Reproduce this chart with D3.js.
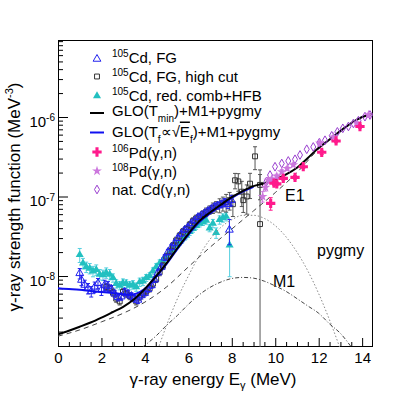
<!DOCTYPE html>
<html><head><meta charset="utf-8">
<script src="https://cdn.jsdelivr.net/npm/d3@7"></script>
<style>
body{margin:0;background:#fff;}
svg{display:block;font-family:"Liberation Sans",Arial,Helvetica,sans-serif;}
</style></head><body>
<svg id="c" width="415" height="399"></svg>
<script>
// ---------------- data (values in units of 1e-9 MeV^-3 for points) ----------------
const xTicks = [0,2,4,6,8,10,12,14];
const yTicks = [1e-8,1e-7,1e-6];

// 105Cd, FG (open blue triangles)
const fgE = [1.00,1.08,1.23,1.38,1.53,1.69,1.84,2.00,2.15,2.30,2.45,2.61,2.76,2.91,3.07,3.22,3.38,3.53,3.68,3.84,3.99,4.14,4.30,4.45,4.60,4.76,4.91,5.06,5.22,5.37,5.52,5.68,5.83,5.98,6.14,6.29,6.44,6.60,6.75,6.90,7.06,7.21,7.36,7.52,7.67,7.82,7.89,7.98];
const fgV = [10.8,8.9,7.7,7.0,6.4,7.3,8.1,6.7,7.7,7.4,6.9,6.0,5.4,5.5,6.3,6.0,5.6,5.2,5.0,5.7,6.1,6.8,7.6,9.0,11,13,17,20,23,26,30,34,38,41,46,50,55,58,62,66,70,75,77,80,84,80,38,90];
const fgErr = [0.15,0.15,0.15,0.15,0.15,0.15,0.15,0.15,0.15,0.15,0.1,0.1,0.1,0.1,0.1,0.1,0.1,0.1,0.1,0.1,0.08,0.08,0.08,0.08,0.08,0.08,0.08,0.08,0.08,0.08,0.07,0.07,0.07,0.07,0.07,0.07,0.07,0.07,0.07,0.07,0.08,0.08,0.1,0.1,0.12,0.12,0.35,0.15];

// 105Cd, FG, high cut (open squares)
const hcE = [2.22,2.38,2.53,2.68,2.84,2.99,3.14,3.30,3.45,3.60,3.76,3.91,4.06,4.22,4.37,4.52,4.68,4.83,4.98,5.14,5.29,5.44,5.60,5.75,5.90,6.06,6.21,6.36,6.52,6.67,6.82,6.98,7.13,7.28,7.44,7.59,7.74,7.90,8.05,8.15,8.30,8.46,8.53,8.69,8.84,9.07,9.30,9.30];
const hcV = [7.3,7.0,6.2,5.2,4.8,6.3,6.0,5.6,5.3,4.8,5.5,6.0,6.4,7.0,8.0,9.2,11.2,13.5,17.5,20.5,24,28,32,36,39,44,49,53,56,60,64,68,72,75,78,82,85,90,80,160,155,115,90,100,145,320,140,45];
const hcErr = [0.1,0.1,0.1,0.1,0.1,0.1,0.1,0.1,0.1,0.1,0.1,0.1,0.1,0.1,0.1,0.1,0.1,0.1,0.1,0.1,0.1,0.1,0.1,0.1,0.1,0.1,0.1,0.1,0.1,0.1,0.12,0.12,0.15,0.15,0.2,0.2,0.25,0.25,0.3,0.22,0.25,0.35,0.3,0.4,0.35,0.32,0.35,3.8];

// 105Cd, red. comb+HFB (filled cyan triangles)
const cyE = [1.00,1.15,1.30,1.46,1.61,1.76,1.92,2.07,2.22,2.38,2.53,2.68,2.84,2.99,3.14,3.30,3.45,3.60,3.76,3.91,4.06,4.22,4.37,4.52,4.68,4.83,4.98,5.14,5.29,5.44,5.60,5.75,5.90,6.06,6.21,6.36,6.52,6.67,6.82,6.98,7.13,7.28,7.44,7.59,7.74,7.90];
const cyV = [18.5,14.5,13,12.5,11.5,12,10.5,10.3,11,10.5,9.5,8.0,7.6,8.2,8.0,7.6,7.8,7.3,8.4,8.6,9.5,10,11.5,13,14.5,15.5,17.5,19.5,21.5,24.5,27,30,32.5,36,39.5,43,46,48,50,40,46,35,51,54,56,24.5];
const cyErr = [0.2,0.15,0.15,0.15,0.15,0.15,0.15,0.15,0.15,0.15,0.12,0.12,0.12,0.12,0.12,0.12,0.12,0.12,0.12,0.12,0.1,0.1,0.1,0.1,0.1,0.1,0.1,0.1,0.1,0.1,0.1,0.1,0.1,0.1,0.1,0.1,0.1,0.1,0.1,0.1,0.12,0.15,0.12,0.12,0.12,0.6];

// 106Pd(g,n), 108Pd(g,n), nat. Cd(g,n)
const pd106E = [9.79,9.94,10.07,10.37,10.91,11.29,12.14,12.80,13.90];
const pd106V = [82,147,144,169,174,237,360,500,760];
const pd106Err = [0.18,0.05,0.05,0.05,0.05,0.05,0.06,0.05,0.05];
const pd108E = [9.42,9.55,9.68,9.84,10.07,10.30,10.55,10.83,12.06,12.68,13.75,14.29];
const pd108V = [100,130,160,165,180,205,225,250,470,560,830,1060];
const pd108Err = [0.15,0.1,0.08,0.06,0.06,0.06,0.05,0.05,0.05,0.05,0.05,0.05];
const cdE = [9.60,9.76,9.99,10.30,10.60,10.91,11.14,11.45,11.75,12.03,12.29,12.60,12.86,13.11,13.37,13.60,13.83,14.13,14.36];
const cdV = [155,186,237,260,280,294,333,393,420,475,510,580,650,720,760,830,900,1010,1060];

// model curves (MeV^-3)
const gloE = [0,0.5,1,1.5,2,2.5,3,3.5,4,4.5,5,5.5,6,6.5,7,7.5,8,8.5,9,9.5,10,10.5,11,11.5,12,12.5,13,13.5,14,14.5];
const gloMinV = [1.85e-9,2.05e-9,2.3e-9,2.6e-9,3.0e-9,3.5e-9,4.1e-9,5.1e-9,6.9e-9,9.8e-9,1.45e-8,2.25e-8,3.4e-8,4.9e-8,6.3e-8,7.9e-8,9.8e-8,1.17e-7,1.35e-7,1.47e-7,1.65e-7,1.9e-7,2.3e-7,3.05e-7,4.1e-7,5.2e-7,6.7e-7,8.4e-7,1.0e-6,1.1e-6];
const gloTfE = [0,0.5,1,1.5,2,2.5,3,3.3,3.6,4,4.5,5,5.5,6,6.5,7,7.5,8,8.5,9];
const gloTfV = [7.0e-9,6.85e-9,6.7e-9,6.5e-9,6.3e-9,6.1e-9,5.9e-9,5.8e-9,6.0e-9,6.9e-9,9.7e-9,1.42e-8,2.2e-8,3.3e-8,4.75e-8,6.1e-8,7.7e-8,9.6e-8,1.15e-7,1.32e-7];
const e1E = [0,1,2,3,4,5,6,7,8,9,10,11,12,13,14,14.5];
const e1V = [1.75e-9,2.1e-9,2.65e-9,3.4e-9,4.7e-9,7.3e-9,1.3e-8,2.3e-8,3.9e-8,6.6e-8,1.12e-7,2.0e-7,3.95e-7,6.5e-7,9.9e-7,1.09e-6];
const pygE = [4.6,5,5.5,6,6.5,7,7.5,8,8.5,9,9.5,10,10.5,11,11.5,12,12.5,13];
const pygV = [1.2e-9,2.4e-9,5.2e-9,1.0e-8,1.8e-8,2.9e-8,4.1e-8,5.1e-8,5.8e-8,5.8e-8,5.3e-8,4.3e-8,3.1e-8,2.0e-8,1.16e-8,6.0e-9,2.8e-9,1.2e-9];
const m1E = [3.9,4.5,5,5.5,6,6.5,7,7.5,8,8.5,9,9.5,10,10.5,11,11.5,12,12.5,13,13.5];
const m1V = [1.28e-9,1.75e-9,2.4e-9,3.2e-9,4.4e-9,5.8e-9,7.2e-9,8.4e-9,9.3e-9,9.6e-9,9.4e-9,8.6e-9,7.5e-9,6.4e-9,5.2e-9,4.2e-9,3.4e-9,2.5e-9,1.9e-9,1.28e-9];

// ---------------- drawing ----------------
const svg = d3.select("#c");
const M = {l:58, t:40, r:373, b:347};
const x = d3.scaleLinear().domain([0,14.5]).range([M.l, M.r]);
const y = d3.scaleLog().domain([1.28e-9, 9.3e-6]).range([M.b, M.t]);

svg.append("rect").attr("width",415).attr("height",399).attr("fill","#fff");
svg.append("defs").append("clipPath").attr("id","clip")
  .append("rect").attr("x",M.l).attr("y",M.t).attr("width",M.r-M.l).attr("height",M.b-M.t);

// axes
const xMinor = d3.range(0, 14.5, 0.5).filter(v => v % 2 !== 0);
svg.append("g").attr("transform",`translate(0,${M.b})`)
  .call(d3.axisBottom(x).tickValues(xMinor).tickSize(-5).tickFormat(""))
  .call(g => g.select(".domain").remove());
const gx = svg.append("g").attr("transform",`translate(0,${M.b})`)
  .call(d3.axisBottom(x).tickValues(xTicks).tickSize(-9).tickPadding(5).tickFormat(d3.format("d")))
  .call(g => g.select(".domain").remove());
gx.selectAll("text").attr("font-size",15).attr("fill","#000").attr("font-family",null);

const yMinor = y.ticks().filter(v => yTicks.every(t => Math.abs(v/t-1) > 1e-6));
svg.append("g").attr("transform",`translate(${M.l},0)`)
  .call(d3.axisLeft(y).tickValues(yMinor).tickSize(-5).tickFormat(""))
  .call(g => g.select(".domain").remove());
const gy = svg.append("g").attr("transform",`translate(${M.l},0)`)
  .call(d3.axisLeft(y).tickValues(yTicks).tickSize(-10).tickPadding(3).tickFormat(() => "10"))
  .call(g => g.select(".domain").remove());
gy.selectAll("text").attr("font-size",15).attr("fill","#000").attr("font-family",null).attr("dy","0.6em")
  .each(function(d){
    d3.select(this).append("tspan").attr("dy","-0.55em").attr("font-size",10)
      .text(String(Math.round(Math.log10(d))));
  });
svg.selectAll(".tick line").attr("stroke","#000");

// frame
svg.append("rect").attr("x",M.l+0.5).attr("y",M.t+0.5).attr("width",M.r-M.l-1).attr("height",M.b-M.t-1)
  .attr("fill","none").attr("stroke","#000").attr("stroke-width",1);

// axis titles
const xt = svg.append("text").attr("x",213).attr("y",385).attr("text-anchor","middle").attr("font-size",17);
xt.append("tspan").text("γ-ray energy E");
xt.append("tspan").attr("dy",4).attr("font-size",11).text("γ");
xt.append("tspan").attr("dy",-4).text(" (MeV)");
const yt = svg.append("text").attr("transform","translate(20,197) rotate(-90)").attr("text-anchor","middle").attr("font-size",17);
yt.append("tspan").text("γ-ray strength function (MeV");
yt.append("tspan").attr("dy",-7).attr("font-size",11).text("-3");
yt.append("tspan").attr("dy",7).text(")");

const plot = svg.append("g").attr("clip-path","url(#clip)");

// curves
function curve(E, V, opts){
  const line = d3.line().x(d=>x(d[0])).y(d=>y(d[1])).curve(d3.curveMonotoneX);
  plot.append("path").datum(E.map((e,i)=>[e,V[i]])).attr("d",line)
    .attr("fill","none").attr("stroke",opts.c).attr("stroke-width",opts.w)
    .attr("stroke-dasharray",opts.dash||null);
}

function points(E, V, err, o){
  const pts = E.map((e,i)=>({e, v:V[i]*1e-9, er: err ? err[i] : 0}));
  const g = plot.append("g");
  if (err){
    const lo = d => y(Math.max(d.v*(1-d.er), 1e-12));
    const hi = d => y(d.v*(1+d.er));
    g.selectAll("line.eb").data(pts).join("line").attr("class","eb")
      .attr("x1",d=>x(d.e)).attr("x2",d=>x(d.e)).attr("y1",lo).attr("y2",hi)
      .attr("stroke",o.ec).attr("stroke-width",1);
    g.selectAll("line.c1").data(pts).join("line").attr("class","c1")
      .attr("x1",d=>x(d.e)-2).attr("x2",d=>x(d.e)+2).attr("y1",hi).attr("y2",hi)
      .attr("stroke",o.ec).attr("stroke-width",1);
    g.selectAll("line.c2").data(pts).join("line").attr("class","c2")
      .attr("x1",d=>x(d.e)-2).attr("x2",d=>x(d.e)+2).attr("y1",lo).attr("y2",lo)
      .attr("stroke",o.ec).attr("stroke-width",1);
  }
  g.selectAll("path.m").data(pts).join("path").attr("class","m")
    .attr("transform",d=>`translate(${x(d.e)},${y(d.v)})`)
    .attr("d", d3.symbol(o.type, o.size)())
    .attr("fill", o.fill).attr("stroke", o.stroke).attr("stroke-width", o.sw||1);
}

const mk = {
  fg:  {type:d3.symbolTriangle, size:26, fill:"none", stroke:"#2222ee", ec:"#2222ee"},
  hc:  {type:d3.symbolSquare, size:24, fill:"none", stroke:"#333", ec:"#555"},
  cy:  {type:d3.symbolTriangle, size:28, fill:"#22c0c0", stroke:"none", ec:"#55cfe0"},
  p106:{type:d3.symbolCross, size:48, fill:"#ff1a8c", stroke:"none", ec:"#ff1a8c"},
  p108:{type:d3.symbolStar, size:30, fill:"#cc77dd", stroke:"none", ec:"#cc77dd"},
  cd:  {type:d3.symbolDiamond, size:22, fill:"none", stroke:"#9a3fd0", ec:"#9a3fd0"}
};

points(cyE, cyV, cyErr, mk.cy);
points(hcE, hcV, hcErr, mk.hc);
points(fgE, fgV, fgErr, mk.fg);

curve(pygE, pygV, {c:"#888", w:1, dash:"1.5,2"});
curve(m1E, m1V, {c:"#444", w:1, dash:"4,2,1,2"});
curve(e1E, e1V, {c:"#444", w:1, dash:"5,4"});
curve(gloTfE, gloTfV, {c:"#1010f0", w:2});
curve(gloE, gloMinV, {c:"#000", w:2});

points(cdE, cdV, null, mk.cd);
points(pd108E, pd108V, pd108Err, mk.p108);
points(pd106E, pd106V, pd106Err, mk.p106);

// in-plot labels
svg.append("text").attr("x",285).attr("y",201).attr("font-size",16).text("E1");
svg.append("text").attr("x",317).attr("y",256).attr("font-size",16).text("pygmy");
svg.append("text").attr("x",273).attr("y",287).attr("font-size",16).text("M1");

// legend
const L = svg.append("g").attr("font-size",15);
const lx = 97, tx = 112;
function sym(o, cy){
  L.append("path").attr("transform",`translate(${lx},${cy})`).attr("d", d3.symbol(o.type,o.size)())
    .attr("fill",o.fill).attr("stroke",o.stroke).attr("stroke-width",1);
}
function iso(t, cy, A, rest){
  const e = L.append("text").attr("x",tx).attr("y",cy+5);
  e.append("tspan").attr("dy",-6).attr("font-size",10).text(A);
  e.append("tspan").attr("dy",6).text(rest);
}
sym(mk.fg, 59);  iso(L, 58, "105", "Cd, FG");
sym(mk.hc, 76.5);  iso(L, 77, "105", "Cd, FG, high cut");
sym(mk.cy, 96);  iso(L, 95.5, "105", "Cd, red. comb+HFB");
L.append("line").attr("x1",90).attr("x2",104).attr("y1",113).attr("y2",113).attr("stroke","#000").attr("stroke-width",2);
{
  const e = L.append("text").attr("x",tx).attr("y",116);
  e.append("tspan").text("GLO(T");
  e.append("tspan").attr("dy",6).attr("font-size",10).text("min");
  e.append("tspan").attr("dy",-6).text(")+M1+pygmy");
}
L.append("line").attr("x1",90).attr("x2",104).attr("y1",132.5).attr("y2",132.5).attr("stroke","#1010f0").attr("stroke-width",2);
{
  const e = L.append("text").attr("x",tx).attr("y",136.5);
  e.append("tspan").text("GLO(T");
  e.append("tspan").attr("dy",6).attr("font-size",10).text("f");
  e.append("tspan").attr("dy",-6).text("∝√");
  e.append("tspan").attr("style","text-decoration:overline").text("E");
  e.append("tspan").attr("dy",6).attr("font-size",10).text("f");
  e.append("tspan").attr("dy",-6).text(")+M1+pygmy");
}
sym(mk.p106, 152); iso(L, 153, "106", "Pd(γ,n)");
sym(mk.p108, 171); iso(L, 171.5, "108", "Pd(γ,n)");
sym(mk.cd, 189.5);
L.append("text").attr("x",tx).attr("y",195).text("nat. Cd(γ,n)");
</script>
</body></html>
